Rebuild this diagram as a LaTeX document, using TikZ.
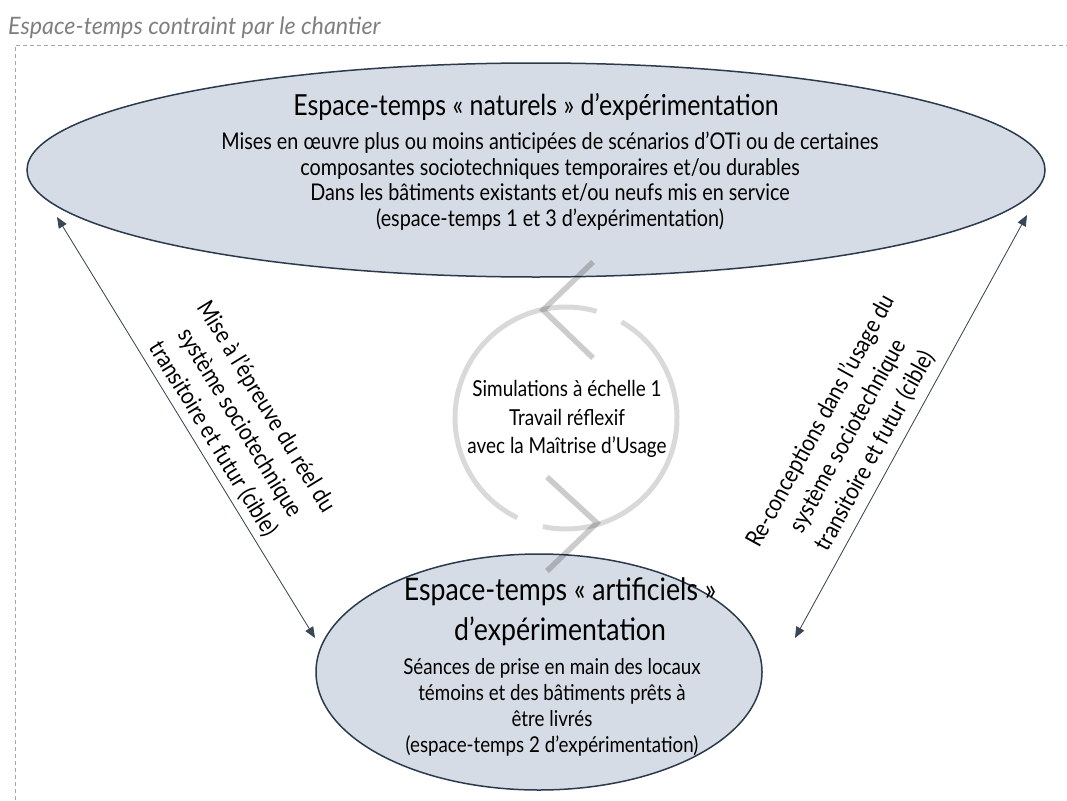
\documentclass[tikz,border=0pt]{standalone}
\usepackage{fontspec}
\setmainfont{Lato}
\newfontfamily\cnd[FakeStretch=0.86]{Lato}
\newfontfamily\hdfont[FakeStretch=0.97]{Lato}
\usetikzlibrary{shapes.geometric,arrows.meta}
\definecolor{ellfill}{HTML}{D6DCE5}
\definecolor{elldraw}{HTML}{2B3A4C}
\definecolor{arrcol}{HTML}{3A4656}
\definecolor{ttlgray}{HTML}{7F7F7F}
\tikzset{
 ell/.style={ellipse, draw=elldraw, fill=ellfill, line width=1.5pt, inner sep=0pt},
 ttl/.style={font=\cnd\fontsize{29}{36}\selectfont, align=center, inner sep=0pt},
 body/.style={font=\cnd\fontsize{23}{25.5}\selectfont, align=center, inner sep=0pt},
 bodyb/.style={font=\cnd\fontsize{21.8}{26}\selectfont, align=center, inner sep=0pt},
 ctext/.style={font=\cnd\fontsize{22}{28.5}\selectfont, align=center, inner sep=0pt},
 lbl/.style={font=\cnd\fontsize{24}{31}\selectfont, align=center, inner sep=0pt},
 link/.style={{Triangle[length=11pt,width=9pt]}-{Triangle[length=11pt,width=9pt]}, draw=arrcol, fill=arrcol, line width=0.8pt},
 cyc/.style={line width=5pt, draw=black, draw opacity=0.15},
 chev/.style={line width=5.5pt, draw=black, draw opacity=0.2},
 frame/.style={draw=black!35, line width=0.8pt, dash pattern=on 4pt off 3pt},
}
\begin{document}
\begin{tikzpicture}[x=1pt,y=-1pt]
\useasboundingbox (0,0) rectangle (1067,800);
% frame and heading
\draw[frame] (15,800) -- (15,45) -- (1067,45);
\node[anchor=west, inner sep=0pt, text=ttlgray, font=\hdfont\itshape\fontsize{24}{28}\selectfont] (heading) at (8,28) {Espace-temps contraint par le chantier};
% ellipses
\node[ell, minimum width=1018pt, minimum height=214pt] (nat) at (536,170) {};
\node[ell, minimum width=446pt, minimum height=236pt] (art) at (539,672) {};
% texts in ellipses
\node[ttl] (natT) at (536,107) {Espace-temps « naturels » d’expérimentation};
\node[body] (natB) at (550,181) {Mises en œuvre plus ou moins anticipées de scénarios d’OTi ou de certaines\\composantes sociotechniques temporaires et/ou durables\\Dans les bâtiments existants et/ou neufs mis en service\\(espace-temps 1 et 3 d’expérimentation)};
\node[ttl, font=\cnd\fontsize{31}{40}\selectfont] (artT) at (560,612) {Espace-temps « artificiels »\\d’expérimentation};
\node[bodyb] (artB) at (552,707) {Séances de prise en main des locaux\\témoins et des bâtiments prêts à\\être livrés\\(espace-temps 2 d’expérimentation)};
% cycle
\coordinate (cc) at (566,418);
\draw[cyc] (cc) ++(116:111) arc[start angle=116, end angle=286, radius=111];
\draw[cyc] (cc) ++(-60:111) arc[start angle=-60, end angle=102, radius=111];
\draw[chev] (593,262) -- (543,310) -- (593,358);
\draw[chev] (547,477) -- (597,523) -- (547,571);
\node[ctext] (sim) at (567,419) {Simulations à échelle 1\\Travail réflexif\\avec la Maîtrise d’Usage};
% links
\coordinate (l1) at (57,217);
\coordinate (l2) at (315,638);
\coordinate (r1) at (1027,215);
\coordinate (r2) at (795,638);
\draw[link] (l1) -- (l2);
\draw[link] (r2) -- (r1);
\node[lbl, rotate=-58.5] (lblL) at (240,423) {Mise à l’épreuve du réel du\\système sociotechnique\\transitoire et futur (cible)};
\node[lbl, rotate=61.3] (lblR) at (848,436) {Re-conceptions dans l’usage du\\système sociotechnique\\transitoire et futur (cible)};
\end{tikzpicture}
\end{document}
